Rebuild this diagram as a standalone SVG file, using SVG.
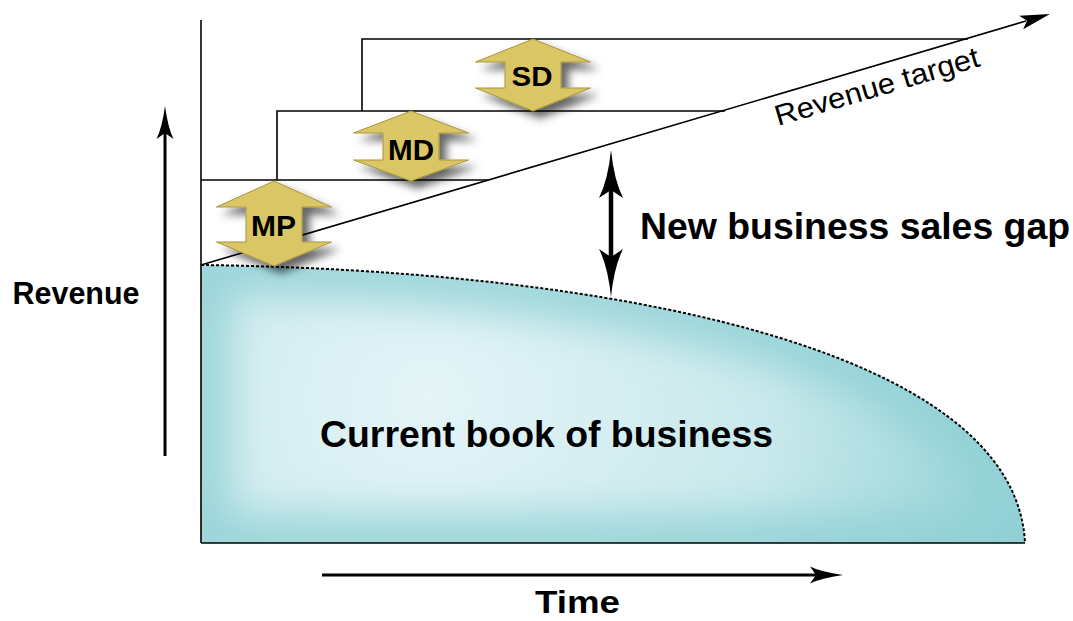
<svg xmlns="http://www.w3.org/2000/svg" width="1073" height="621" viewBox="0 0 1073 621">
  <style>
    .ln { stroke: #000; stroke-width: 1.6; fill: none; }
    .lbl { font-family: "Liberation Sans", Arial, Helvetica, sans-serif; font-weight: bold; fill: #000; }
    .thin { font-family: "Liberation Sans", Arial, Helvetica, sans-serif; font-weight: normal; fill: #000; }
    .gold { fill: #DBC665; stroke: #A8943C; stroke-width: 1; }
    .head { fill: #000; stroke: none; }
  </style>
  <defs>
    <radialGradient id="book" gradientUnits="userSpaceOnUse" cx="430" cy="400" r="560">
      <stop offset="0" stop-color="#E4F4F7"/>
      <stop offset="0.6" stop-color="#C9E9EC"/>
      <stop offset="1" stop-color="#9AD5D9"/>
    </radialGradient>
    <clipPath id="bookClip">
      <path d="M201,265 C600,270 1015,345 1025,543 L201,543 Z"/>
    </clipPath>
    <filter id="glow" x="-15%" y="-15%" width="130%" height="130%">
      <feGaussianBlur stdDeviation="20"/>
    </filter>
    <filter id="shadow" x="-30%" y="-30%" width="170%" height="170%">
      <feDropShadow dx="7" dy="7" stdDeviation="4.5" flood-color="#000" flood-opacity="0.6"/>
    </filter>
  </defs>
  <rect width="1073" height="621" fill="#fff"/>

  <g id="book-of-business">
    <path d="M201,265 C600,270 1015,345 1025,543 L201,543 Z" fill="url(#book)"/>
    <g clip-path="url(#bookClip)">
      <path d="M201,265 C600,270 1015,345 1025,543 L201,543 Z" fill="none" stroke="#8FD0D5" stroke-width="56" stroke-opacity="0.85" filter="url(#glow)"/>
    </g>
    <path d="M201,265 C600,270 1015,345 1025,543" fill="none" stroke="#000" stroke-width="2" stroke-dasharray="3,2"/>
    <text class="lbl" x="320" y="447" font-size="36" textLength="453" lengthAdjust="spacingAndGlyphs">Current book of business</text>
  </g>

  <g id="connectors">
    <g id="axes">
      <line class="ln" x1="201" y1="20" x2="201" y2="543"/>
      <line class="ln" x1="201" y1="543" x2="1025" y2="543"/>
    </g>
    <g id="steps">
      <polyline class="ln" points="201,180 488,180"/>
      <polyline class="ln" points="277,180 277,111 725,111"/>
      <polyline class="ln" points="362,111 362,39 968,39"/>
    </g>
    <g id="revenue-target">
      <line class="ln" x1="201" y1="265" x2="1026" y2="21"/>
      <path class="head" d="M1050,14 L1019.2,15.8 L1027,20.8 L1023.2,29.2 Z"/>
    </g>
    <g id="revenue-axis-arrow">
      <line x1="165" y1="456" x2="165" y2="132" stroke="#000" stroke-width="3"/>
      <path class="head" d="M165,106 Q168,128 173.5,139 L165,133 L156.5,139 Q162,128 165,106 Z"/>
    </g>
    <g id="time-axis-arrow">
      <line x1="322" y1="575" x2="818" y2="575" stroke="#000" stroke-width="3"/>
      <path class="head" d="M843,575 Q821,578 810,583.5 L816,575 L810,566.5 Q821,572 843,575 Z"/>
    </g>
    <g id="gap-arrow">
      <line x1="611" y1="188" x2="611" y2="259" stroke="#000" stroke-width="4.5"/>
      <path class="head" d="M611,150 Q614,180 623,198 L611,190 L599,198 Q608,180 611,150 Z"/>
      <path class="head" d="M611,297 Q614,267 623,249 L611,257 L599,249 Q608,267 611,297 Z"/>
    </g>
  </g>

  <g id="label-revenue-target">
    <text class="thin" x="778" y="126" font-size="29" textLength="212" lengthAdjust="spacingAndGlyphs" transform="rotate(-16.5 778 126)">Revenue target</text>
  </g>

  <g id="node-MP">
    <path class="gold" filter="url(#shadow)" d="M274,181 L331.5,207 L302,207 L302,242 L331.5,242 L274,266 L216.5,242 L246,242 L246,207 L216.5,207 Z"/>
    <text class="lbl" x="251" y="236" font-size="30" textLength="45" lengthAdjust="spacingAndGlyphs">MP</text>
  </g>
  <g id="node-MD">
    <path class="gold" filter="url(#shadow)" d="M411,111 L468.5,133 L439,133 L439,160 L468.5,160 L411,181 L353.5,160 L383,160 L383,133 L353.5,133 Z"/>
    <text class="lbl" x="388" y="160" font-size="30" textLength="46" lengthAdjust="spacingAndGlyphs">MD</text>
  </g>
  <g id="node-SD">
    <path class="gold" filter="url(#shadow)" d="M533,39 L590.5,62 L561,62 L561,88 L590.5,88 L533,111 L475.5,88 L505,88 L505,62 L475.5,62 Z"/>
    <text class="lbl" x="511.5" y="86" font-size="28" textLength="41" lengthAdjust="spacingAndGlyphs">SD</text>
  </g>

  <g id="label-gap">
    <text class="lbl" x="640" y="239" font-size="37" textLength="430" lengthAdjust="spacingAndGlyphs">New business sales gap</text>
  </g>
  <g id="label-revenue">
    <text class="lbl" x="12.5" y="304" font-size="31" textLength="127" lengthAdjust="spacingAndGlyphs">Revenue</text>
  </g>
  <g id="label-time">
    <text class="lbl" x="535" y="613" font-size="31" textLength="85" lengthAdjust="spacingAndGlyphs">Time</text>
  </g>
</svg>
